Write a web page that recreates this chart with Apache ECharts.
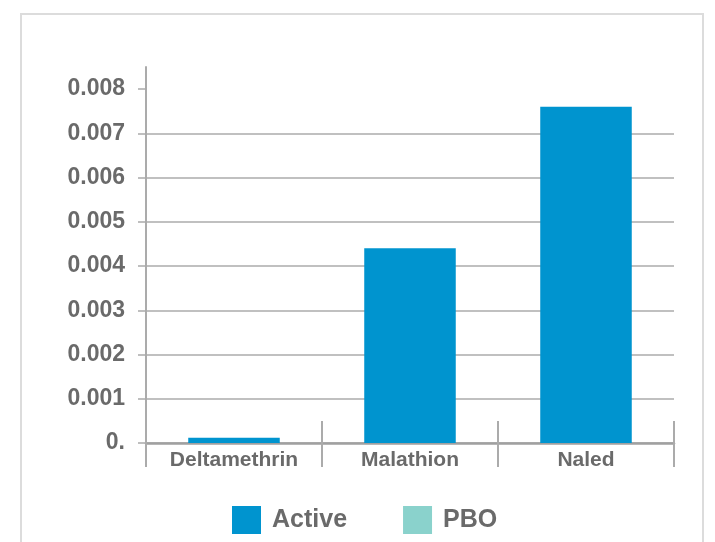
<!DOCTYPE html>
<html><head><meta charset="utf-8">
<script src="https://cdn.jsdelivr.net/npm/echarts@6/dist/echarts.min.js"></script>
<style>html,body{margin:0;padding:0;background:#fff;}#c{width:715px;height:542px;}</style>
</head><body><div id="c"></div>
<script>
const categories = ['Deltamethrin', 'Malathion', 'Naled'];
const activeValues = [0.00012, 0.0044, 0.0076];
const pboValues = [0, 0, 0];
const yTicks = [0, 0.001, 0.002, 0.003, 0.004, 0.005, 0.006, 0.007, 0.008];

const gray = '#6a6a6a';
const lineGray = '#ababab';
const chart = echarts.init(document.getElementById('c'));
chart.setOption({
  animation: false,
  graphic: [{
    type: 'rect', silent: true,
    shape: { x: 21, y: 14, width: 682, height: 600 },
    style: { fill: 'none', stroke: '#dcdcdc', lineWidth: 2 }
  }],
  grid: { left: 146, right: 41, top: 67, bottom: 99 },
  legend: {
    top: 501, left: 227,
    itemWidth: 29, itemHeight: 28, itemGap: 56,
    icon: 'rect',
    textStyle: { color: gray, fontSize: 25, fontWeight: 'bold', fontFamily: 'Liberation Sans', padding: [0, 0, 0, 6] },
    data: ['Active', 'PBO']
  },
  xAxis: [{
    type: 'category', data: categories,
    axisLine: { lineStyle: { color: '#a0a0a0', width: 2.5 } },
    axisTick: { show: true, length: 24, lineStyle: { color: lineGray, width: 2 } },
    axisLabel: { color: gray, fontSize: 21, fontWeight: 'bold', fontFamily: 'Liberation Sans', margin: 7 }
  }, {
    type: 'category', data: categories, position: 'bottom',
    axisLine: { show: false },
    axisTick: { show: true, inside: true, length: 22, lineStyle: { color: lineGray, width: 2 } },
    axisLabel: { show: false }
  }],
  yAxis: {
    type: 'value', min: 0, max: 0.0085, interval: 0.001,
    axisLine: { show: true, lineStyle: { color: lineGray, width: 2 } },
    axisTick: { show: true, length: 8, customValues: yTicks, lineStyle: { color: lineGray, width: 1.5 } },
    axisLabel: {
      showMaxLabel: false,
      color: gray, fontSize: 23, fontWeight: 'bold', fontFamily: 'Liberation Sans', margin: 21,
      formatter: v => v === 0 ? '0.' : v.toFixed(3)
    },
    splitLine: { show: true, showMaxLine: false, lineStyle: { color: lineGray, width: 1.5 } }
  },
  series: [{
    name: 'Active', type: 'bar', data: activeValues,
    itemStyle: { color: '#0094cf' }, barCategoryGap: '48%', barGap: '-100%'
  }, {
    name: 'PBO', type: 'bar', data: pboValues,
    itemStyle: { color: '#8ad2cc' }
  }]
});
</script></body></html>
